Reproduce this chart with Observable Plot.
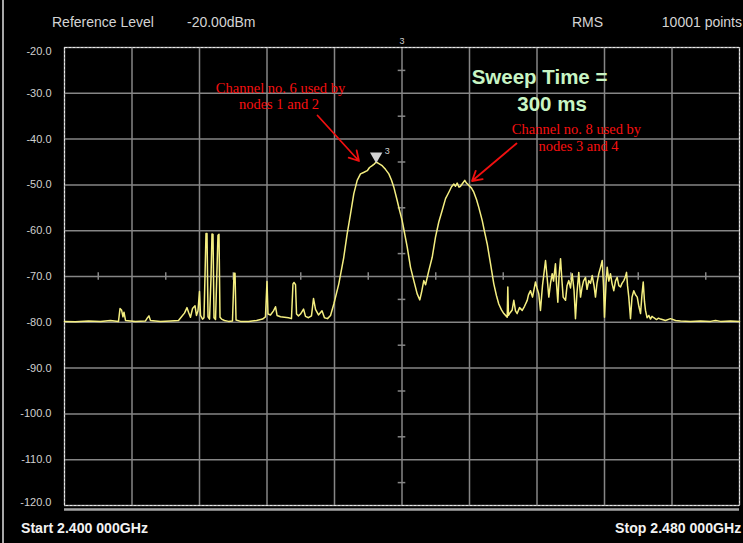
<!DOCTYPE html>
<html>
<head>
<meta charset="utf-8">
<script src="https://cdn.jsdelivr.net/npm/d3@7"></script>
<script src="https://cdn.jsdelivr.net/npm/@observablehq/plot@0.6"></script>
<style>
  html, body { margin: 0; padding: 0; background: #000; width: 743px; height: 543px; overflow: hidden; }
  #wrap { position: relative; width: 743px; height: 543px; background: #000; }
  #edge { position: absolute; left: 2px; top: 0; width: 2px; height: 543px; background: #a8a8a8; }
  #header { position: relative; height: 30px; font-family: "Liberation Sans", Arial, sans-serif; font-size: 14px; color: #d4d4d4; }
  #header span { position: absolute; top: 14px; line-height: 16px; white-space: nowrap; }
  #footer { position: relative; height: 23px; font-family: "Liberation Sans", Arial, sans-serif; font-size: 15px; font-weight: bold; color: #f2f2f2; }
  #footer span { position: absolute; top: 0px; line-height: 16px; white-space: nowrap; transform: scaleX(0.94); }
  #chart svg { display: block; }
</style>
</head>
<body>
<div id="wrap">
  <div id="edge"></div>
  <div id="header"></div>
  <div id="chart"></div>
  <div id="footer"></div>
</div>
<script>
// ---- Text content ----
const headerTexts = ["Reference Level", "-20.00dBm", "RMS", "10001 points"];
const footerTexts = ["Start 2.400 000GHz", "Stop 2.480 000GHz"];
const annotation6 = ["Channel no. 6 used by", "nodes 1 and 2"];
const annotation8 = ["Channel no. 8 used by", "nodes 3 and 4"];
const sweepTexts = ["Sweep Time =", "300 ms"];

// ---- Axis / grid values ----
const xDomain = [2400, 2480];           // MHz
const yDomain = [-120, -20];            // dBm
const gridXValues = [2400, 2408, 2416, 2424, 2432, 2440, 2448, 2456, 2464, 2472, 2480];
const gridYValues = [-20, -30, -40, -50, -60, -70, -80, -90, -100, -110, -120];
const centerYTicks = [-25, -35, -45, -55, -65, -75, -85, -95, -105, -115];
const centerXTicks = [2404, 2412, 2420, 2428, 2436, 2444, 2452, 2460, 2468, 2476];

// ---- Trace (frequency in MHz, level in dBm) ----
const freqMHz = [
  2400.00, 2401.30, 2402.84, 2404.27, 2405.45, 2406.40, 2406.58, 2406.76, 2406.93, 2407.05,
  2407.23, 2408.41, 2409.60, 2409.84, 2410.01, 2410.19, 2411.38, 2412.56, 2413.51, 2413.87,
  2414.22, 2414.52, 2414.70, 2414.93, 2415.17, 2415.47, 2415.64, 2415.82, 2416.00, 2416.12,
  2416.36, 2416.53, 2416.65, 2416.77, 2416.89, 2417.01, 2417.19, 2417.36, 2417.48, 2417.60,
  2417.72, 2417.90, 2418.19, 2418.31, 2418.43, 2418.61, 2418.96, 2419.44, 2419.91, 2420.09,
  2420.21, 2420.33, 2420.86, 2421.81, 2422.76, 2423.47, 2423.82, 2424.00, 2424.12, 2424.41,
  2424.77, 2425.01, 2425.19, 2425.60, 2426.07, 2426.55, 2426.90, 2427.08, 2427.20, 2427.38,
  2427.50, 2427.73, 2427.97, 2428.33, 2428.56, 2428.92, 2429.27, 2429.51, 2429.75, 2430.10,
  2430.52, 2430.81, 2431.17, 2431.53, 2431.92, 2432.51, 2433.10, 2433.50, 2433.90, 2434.29,
  2434.69, 2435.08, 2435.44, 2435.88, 2436.15, 2436.47, 2436.74, 2436.94, 2437.21, 2437.65,
  2438.04, 2438.44, 2438.76, 2439.03, 2439.43, 2439.70, 2440.02, 2440.30, 2440.62, 2441.01,
  2441.40, 2441.80, 2442.11, 2442.31, 2442.58, 2442.79, 2443.18, 2443.58, 2443.97, 2444.36,
  2444.76, 2445.16, 2445.55, 2445.87, 2446.14, 2446.34, 2446.54, 2446.76, 2446.93, 2447.17,
  2447.44, 2447.64, 2447.92, 2448.24, 2448.51, 2448.83, 2449.10, 2449.51, 2449.78, 2450.10,
  2450.49, 2450.88, 2451.20, 2451.47, 2451.79, 2452.07, 2452.33, 2452.47, 2452.54, 2452.62,
  2452.86, 2453.06, 2453.25, 2453.45, 2453.65, 2453.93, 2454.25, 2454.52, 2454.84, 2454.99,
  2455.23, 2455.47, 2455.82, 2456.00, 2456.21, 2456.41, 2456.65, 2457.01, 2457.19, 2457.40,
  2457.60, 2457.80, 2457.96, 2458.19, 2458.31, 2458.47, 2458.61, 2458.79, 2458.94, 2459.10,
  2459.38, 2459.56, 2459.77, 2459.97, 2460.17, 2460.39, 2460.56, 2460.74, 2460.95, 2461.16,
  2461.33, 2461.51, 2461.75, 2461.93, 2462.14, 2462.34, 2462.54, 2462.76, 2462.93, 2463.11,
  2463.32, 2463.53, 2463.73, 2463.88, 2464.00, 2464.18, 2464.32, 2464.51, 2464.71, 2464.89,
  2465.10, 2465.30, 2465.50, 2465.70, 2465.90, 2466.07, 2466.29, 2466.49, 2466.61, 2466.73,
  2466.88, 2467.08, 2467.26, 2467.47, 2467.67, 2467.88, 2468.07, 2468.27, 2468.44, 2468.59,
  2468.74, 2468.86, 2469.04, 2469.25, 2469.45, 2469.63, 2469.84, 2470.16, 2470.40, 2470.64,
  2471.23, 2471.82, 2472.42, 2473.01, 2474.19, 2475.38, 2476.56, 2477.16, 2477.75, 2478.93, 2480.00
];
const levelDbm = [
  -79.8, -79.9, -79.7, -79.8, -79.6, -79.8, -77.0, -77.3, -78.8, -77.8,
  -79.6, -79.8, -79.7, -79.0, -78.6, -79.6, -79.8, -79.7, -79.6, -78.8,
  -78.0, -76.8, -77.8, -78.9, -77.0, -76.4, -78.5, -77.5, -73.3, -78.5,
  -79.3, -79.0, -70.0, -60.6, -60.6, -78.8, -79.3, -70.5, -60.7, -60.8,
  -79.0, -79.4, -61.0, -60.8, -78.9, -79.3, -79.6, -79.8, -79.7, -69.3,
  -69.3, -79.5, -79.8, -79.8, -79.6, -79.3, -78.8, -71.1, -78.2, -78.4,
  -77.5, -76.6, -78.5, -78.8, -78.9, -79.0, -79.2, -71.6, -71.3, -71.8,
  -78.2, -78.6, -78.2, -77.1, -78.7, -79.0, -78.6, -74.8, -77.2, -78.4,
  -77.5, -79.0, -79.2, -78.5, -76.0, -71.6, -65.8, -60.7, -56.3, -51.9,
  -49.0, -47.6, -47.3, -46.9, -46.2, -45.8, -45.4, -45.0, -45.3, -45.8,
  -46.6, -47.6, -49.0, -50.5, -53.4, -55.5, -57.8, -60.5, -63.6, -68.0,
  -70.9, -73.8, -75.1, -73.5, -70.9, -71.8, -68.7, -65.8, -61.4, -58.1,
  -55.6, -53.0, -51.6, -50.4, -49.8, -50.3, -49.6, -50.5, -50.3, -49.7,
  -49.0, -49.6, -50.1, -50.7, -51.6, -53.2, -54.9, -57.8, -60.2, -62.9,
  -67.2, -71.6, -74.2, -76.0, -77.3, -78.1, -78.6, -78.9, -72.3, -78.5,
  -77.8, -77.3, -75.2, -77.5, -78.1, -76.8, -77.4, -76.5, -75.2, -74.0,
  -73.1, -74.5, -71.2, -72.5, -73.8, -77.4, -72.0, -66.5, -70.0, -74.5,
  -71.5, -69.4, -71.0, -67.2, -71.5, -75.6, -70.0, -66.1, -70.5, -74.5,
  -75.2, -72.0, -70.9, -72.5, -69.4, -73.0, -79.2, -73.5, -69.1, -74.5,
  -72.5, -71.0, -70.2, -72.8, -70.9, -71.5, -69.8, -72.0, -74.5, -71.5,
  -69.4, -68.0, -66.5, -72.0, -78.9, -71.5, -68.0, -71.0, -69.4, -71.5,
  -73.1, -71.0, -70.2, -72.0, -72.3, -71.5, -70.9, -70.0, -69.1, -72.0,
  -74.5, -79.2, -74.5, -73.1, -74.0, -74.5, -76.5, -78.1, -74.0, -71.2,
  -75.5, -77.4, -79.0, -78.5, -79.3, -78.7, -79.0, -79.4, -79.1, -79.3,
  -79.6, -79.2, -79.6, -79.7, -79.8, -79.7, -79.8, -79.6, -79.8, -79.7, -79.8
];

// ---- Marker & annotation anchors (data coordinates) ----
const markerFreq = [2436.94];
const markerLevel = [-45.0];
const markerLabel = ["3"];
const topMarkerLabel = ["3"];
const annot6X = [2425.60, 2425.42];
const annot6Y = [-28.95, -32.45];
const annot8X = [2460.68, 2460.92];
const annot8Y = [-37.90, -41.62];
const sweepX = [2456.30, 2457.78];
const sweepY = [-26.55, -32.45];
const arrowFrom = [[2429.99, -34.85], [2453.57, -40.96]];
const arrowTo = [[2434.90, -44.78], [2448.30, -49.15]];

// ---- Build tables ----
const trace = freqMHz.map((f, i) => ({f, db: levelDbm[i]}));
const marker = markerFreq.map((f, i) => ({f, db: markerLevel[i], label: markerLabel[i]}));
const annotRows = [
  ...annotation6.map((t, i) => ({t, x: annot6X[i], y: annot6Y[i]})),
  ...annotation8.map((t, i) => ({t, x: annot8X[i], y: annot8Y[i]}))
];
const sweepRows = sweepTexts.map((t, i) => ({t, x: sweepX[i], y: sweepY[i]}));
const arrows = arrowFrom.map((a, i) => ({x1: a[0], y1: a[1], x2: arrowTo[i][0], y2: arrowTo[i][1]}));
const yMid = gridYValues.filter(v => v !== -20 && v !== -120);

const gridColor = "#868686";
const tickLabelStyle = {tickSize: 0, tickPadding: 13, tickFormat: d => d.toFixed(1), fill: "#d0d0d0", fontSize: 11, label: null};

const chart = Plot.plot({
  width: 743,
  height: 490,
  marginLeft: 64,
  marginRight: 4,
  marginTop: 17,
  marginBottom: 15,
  style: {background: "#000", color: "#d0d0d0", fontFamily: "Liberation Sans, Arial, sans-serif", fontSize: "11px", overflow: "visible"},
  x: {domain: xDomain, axis: null},
  y: {domain: yDomain, axis: null},
  marks: [
    Plot.gridX(gridXValues, {stroke: gridColor, strokeOpacity: 1, strokeWidth: 1.5}),
    Plot.gridY(gridYValues, {stroke: gridColor, strokeOpacity: 1, strokeWidth: 1.5}),
    Plot.ruleY(centerYTicks, {x1: 2439.55, x2: 2440.45, stroke: gridColor, strokeWidth: 1.5}),
    Plot.ruleX(centerXTicks, {y1: -69.2, y2: -70.8, stroke: gridColor, strokeWidth: 1.5}),
    Plot.ruleY([-120], {dy: 4, stroke: "#a6a6a6", strokeWidth: 2.5}),
    Plot.frame({stroke: "#e8e8e8", strokeDasharray: "3,1", strokeWidth: 1}),
    Plot.axisY([-20], {...tickLabelStyle, lineAnchor: "top"}),
    Plot.axisY(yMid, {...tickLabelStyle}),
    Plot.axisY([-120], {...tickLabelStyle, lineAnchor: "bottom"}),
    Plot.text(topMarkerLabel, {x: () => 2440, y: () => -20, text: d => d, dy: -6, fontSize: 9, fill: "#cfcfcf"}),
    Plot.line(trace, {x: "f", y: "db", stroke: "#f4ee80", strokeWidth: 1.5, curve: "linear"}),
    Plot.dot(marker, {x: "f", y: "db", symbol: "triangle", rotate: 180, r: 4.6, fill: "#d2d2d2", stroke: null, dy: -6}),
    Plot.text(marker, {x: "f", y: "db", text: "label", dx: 11, dy: -11, fontSize: 9, fill: "#cfcfcf"}),
    Plot.arrow(arrows, {x1: "x1", y1: "y1", x2: "x2", y2: "y2", stroke: "#f01010", strokeWidth: 1.8, headLength: 9, insetEnd: 0}),
    Plot.text(annotRows, {x: "x", y: "y", text: "t", fill: "#f81010", fontFamily: "Liberation Serif, 'Times New Roman', serif", fontSize: 14.5}),
    Plot.text(sweepRows, {x: "x", y: "y", text: "t", fill: "#c8f5c4", fontWeight: "bold", fontFamily: "Liberation Sans, Arial, sans-serif", fontSize: 20.5})
  ]
});
document.getElementById("chart").appendChild(chart);

// ---- Header / footer text ----
const header = document.getElementById("header");
const headerLefts = [52, 187, 572, null];
headerTexts.forEach((t, i) => {
  const s = document.createElement("span");
  s.textContent = t;
  if (headerLefts[i] !== null) s.style.left = headerLefts[i] + "px"; else s.style.right = "1px";
  header.appendChild(s);
});
const footer = document.getElementById("footer");
footerTexts.forEach((t, i) => {
  const s = document.createElement("span");
  s.textContent = t;
  if (i === 0) { s.style.left = "21px"; s.style.transformOrigin = "left center"; }
  else { s.style.right = "2px"; s.style.transformOrigin = "right center"; }
  footer.appendChild(s);
});
</script>
</body>
</html>
